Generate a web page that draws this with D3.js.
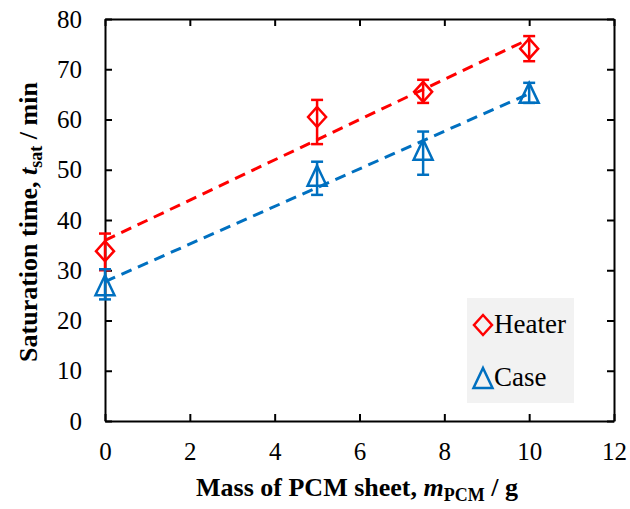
<!DOCTYPE html>
<html>
<head>
<meta charset="utf-8">
<script src="https://cdn.jsdelivr.net/npm/d3@7"></script>
<style>
  html, body { margin: 0; padding: 0; background: #fff; }
  svg text { font-family: "Liberation Serif", "Times New Roman", serif; }
</style>
</head>
<body>
<svg id="chart" width="630" height="509"></svg>
<script>
// Mass of PCM sheet (g)
const masses = [0, 5, 7.5, 10];

// Saturation time for the heater: mean, lower and upper error limits (min)
const heaterMean  = [33.8, 60.5, 65.5, 74.1];
const heaterLower = [30.0, 55.1, 63.3, 71.6];
const heaterUpper = [37.3, 63.9, 67.9, 76.6];

// Saturation time for the case: mean, lower and upper error limits (min)
const caseMean  = [27.0, 48.8, 54.0, 65.3];
const caseLower = [24.2, 45.0, 49.0, 63.3];
const caseUpper = [30.2, 51.6, 57.6, 67.3];

const xTicks = [0, 2, 4, 6, 8, 10, 12];
const yTicks = [0, 10, 20, 30, 40, 50, 60, 70, 80];

const seriesNames = ["Heater", "Case"];
const colors = { Heater: "#FF0000", Case: "#0070C0" };

const FONT = "'Liberation Serif', 'Times New Roman', serif";
const svg = d3.select("#chart");
const plotLeft = 105, plotTop = 19, plotRight = 614, plotBottom = 421;

const x = d3.scaleLinear().domain([0, 12]).range([plotLeft, plotRight]);
const y = d3.scaleLinear().domain([0, 80]).range([plotBottom, plotTop]);

// Axes: inward ticks on all four sides, labels only on left and bottom
const tickLen = 7;
const axisStyle = g => {
  g.attr("font-family", null).attr("font-size", null);
  g.selectAll(".domain").attr("stroke", "#000").attr("stroke-width", 2);
  g.selectAll(".tick line").attr("stroke", "#000").attr("stroke-width", 2);
  g.selectAll(".tick text").attr("fill", "#000")
    .style("font-family", FONT).style("font-size", "25px");
};

svg.append("g").attr("transform", `translate(0,${plotBottom})`)
  .call(d3.axisBottom(x).tickValues(xTicks).tickFormat(d3.format("d"))
        .tickSizeInner(-tickLen).tickSizeOuter(0).tickPadding(21))
  .call(axisStyle);
svg.append("g").attr("transform", `translate(0,${plotTop})`)
  .call(d3.axisTop(x).tickValues(xTicks).tickFormat("")
        .tickSizeInner(-tickLen).tickSizeOuter(0))
  .call(axisStyle);
svg.append("g").attr("transform", `translate(${plotLeft},0)`)
  .call(d3.axisLeft(y).tickValues(yTicks).tickFormat(d3.format("d"))
        .tickSizeInner(-tickLen).tickSizeOuter(0).tickPadding(23))
  .call(axisStyle);
svg.append("g").attr("transform", `translate(${plotRight},0)`)
  .call(d3.axisRight(y).tickValues(yTicks).tickFormat("")
        .tickSizeInner(-tickLen).tickSizeOuter(0))
  .call(axisStyle);

// Series records built from the arrays
const series = [
  { name: "Heater", mean: heaterMean, lo: heaterLower, hi: heaterUpper, shape: "diamond" },
  { name: "Case",   mean: caseMean,   lo: caseLower,   hi: caseUpper,   shape: "triangle" }
];

// Marker paths (unfilled outlines)
function markerPath(shape, cx, cy) {
  if (shape === "diamond") {
    const w = 9, h = 10;
    return `M${cx},${cy - h}L${cx + w},${cy}L${cx},${cy + h}L${cx - w},${cy}Z`;
  }
  const w = 9.5, h = 10;
  return `M${cx},${cy - h}L${cx + w},${cy + h}L${cx - w},${cy + h}Z`;
}

// Least-squares linear trendline for each series
function fit(xs, ys) {
  const mx = d3.mean(xs), my = d3.mean(ys);
  const sxy = d3.sum(xs, (v, i) => (v - mx) * (ys[i] - my));
  const sxx = d3.sum(xs, v => (v - mx) ** 2);
  const b = sxy / sxx;
  return { a: my - b * mx, b };
}

const plot = svg.append("g");

series.forEach(s => {
  const c = colors[s.name];
  const g = plot.append("g");
  // error bars
  masses.forEach((m, i) => {
    const cx = x(m);
    g.append("line").attr("x1", cx).attr("x2", cx)
      .attr("y1", y(s.lo[i])).attr("y2", y(s.hi[i]))
      .attr("stroke", c).attr("stroke-width", 2.5);
    [s.lo[i], s.hi[i]].forEach(v => {
      g.append("line").attr("x1", cx - 6).attr("x2", cx + 6)
        .attr("y1", y(v)).attr("y2", y(v))
        .attr("stroke", c).attr("stroke-width", 2.5);
    });
  });
  // markers
  g.selectAll("path.mk").data(masses).join("path").attr("class", "mk")
    .attr("d", (m, i) => markerPath(s.shape, x(m), y(s.mean[i])))
    .attr("fill", "none").attr("stroke", c).attr("stroke-width", 2.5)
    .attr("stroke-linejoin", "miter");
});

// Dashed trendlines
series.forEach(s => {
  const f = fit(masses, s.mean);
  const x0 = d3.min(masses), x1 = d3.max(masses);
  plot.append("line")
    .attr("x1", x(x0)).attr("y1", y(f.a + f.b * x0))
    .attr("x2", x(x1)).attr("y2", y(f.a + f.b * x1))
    .attr("stroke", colors[s.name]).attr("stroke-width", 3)
    .attr("stroke-dasharray", "11,7");
});

// Legend
const lg = svg.append("g");
lg.append("rect").attr("x", 467).attr("y", 298).attr("width", 107).attr("height", 105)
  .attr("fill", "#F2F2F2");
series.forEach((s, i) => {
  const cy = 325 + i * 53;
  lg.append("path").attr("d", markerPath(s.shape, 483, cy))
    .attr("fill", "none").attr("stroke", colors[s.name]).attr("stroke-width", 2.5);
  lg.append("text").attr("x", 494).attr("y", cy + 8)
    .style("font-family", FONT).style("font-size", "27px").attr("fill", "#000")
    .text(seriesNames[i]);
});

// Axis titles
const xt = svg.append("text").attr("x", 357).attr("y", 496)
  .attr("text-anchor", "middle").style("font-family", FONT)
  .style("font-size", "26px").attr("font-weight", "bold");
xt.append("tspan").text("Mass of PCM sheet, ");
xt.append("tspan").attr("font-style", "italic").text("m");
xt.append("tspan").style("font-size", "18px").attr("dy", 5).text("PCM");
xt.append("tspan").attr("dy", -5).text(" / g");

const yt = svg.append("text").attr("transform", "translate(37,222) rotate(-90)")
  .attr("text-anchor", "middle").style("font-family", FONT)
  .style("font-size", "26px").attr("font-weight", "bold");
yt.append("tspan").text("Saturation time, ");
yt.append("tspan").attr("font-style", "italic").text("t");
yt.append("tspan").style("font-size", "18px").attr("dy", 5).text("sat");
yt.append("tspan").attr("dy", -5).text(" / min");
</script>
</body>
</html>
